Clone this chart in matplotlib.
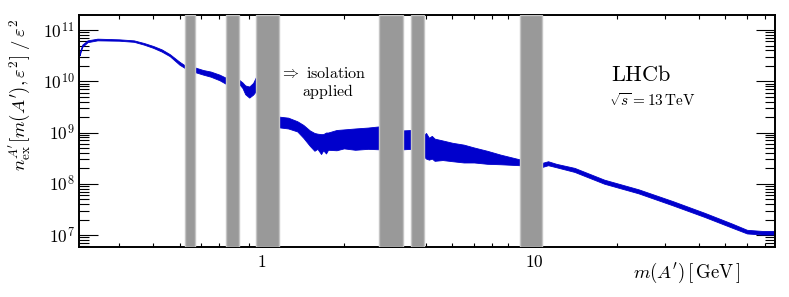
import numpy as np
import matplotlib
matplotlib.use("Agg")
import matplotlib.pyplot as plt
from matplotlib.ticker import FixedLocator, FuncFormatter, NullFormatter

plt.rcParams['mathtext.fontset'] = 'cm'
plt.rcParams['font.family'] = 'serif'

# expected A' yield band (upper / lower edge)
mass = [0.215, 0.22, 0.23, 0.25, 0.30, 0.34, 0.37, 0.40, 0.43, 0.46, 0.50, 0.53,
        0.57, 0.61, 0.65, 0.70, 0.74,
        0.826, 0.85, 0.87, 0.90, 0.93, 0.96,
        1.16, 1.25, 1.35, 1.42, 1.50, 1.56, 1.60, 1.65, 1.68, 1.72, 1.75, 1.88, 2.0, 2.2, 2.45, 2.7,
        3.3, 3.52,
        3.93, 4.0, 4.1, 4.2, 4.3, 4.6, 5.0, 5.5, 6.0, 6.7, 7.5, 8.8,
        10.7, 11.2, 12.0, 14, 18, 24, 32, 42, 53, 60, 68, 76]
upper = [3.6e10, 5.2e10, 6.3e10, 6.8e10, 6.6e10, 6.3e10, 5.6e10, 4.9e10, 4.2e10, 3.4e10, 2.4e10, 1.95e10,
         1.86e10, 1.66e10, 1.55e10, 1.35e10, 1.17e10,
         1.07e10, 9.5e9, 8.3e9, 7.9e9, 9.3e9, 1.32e10,
         2.04e9, 1.95e9, 1.66e9, 1.41e9, 1.10e9, 9.8e8, 9.5e8, 9.3e8, 9.3e8, 1.0e9, 1.0e9, 1.12e9, 1.15e9, 1.20e9, 1.25e9, 1.32e9,
         1.10e9, 1.12e9,
         8.9e8, 9.8e8, 7.9e8, 8.6e8, 7.6e8, 7.0e8, 6.3e8, 5.8e8, 5.1e8, 4.4e8, 3.7e8, 3.0e8,
         2.57e8, 2.75e8, 2.45e8, 2.04e8, 1.20e8, 7.8e7, 4.6e7, 2.7e7, 1.66e7, 1.26e7, 1.20e7, 1.20e7]
lower = [3.2e10, 4.7e10, 5.8e10, 6.3e10, 6.2e10, 5.9e10, 5.2e10, 4.5e10, 3.8e10, 3.1e10, 2.1e10, 1.74e10,
         1.51e10, 1.35e10, 1.23e10, 1.05e10, 8.9e9,
         8.9e9, 7.4e9, 5.6e9, 4.8e9, 5.5e9, 6.8e9,
         1.26e9, 1.20e9, 1.05e9, 7.9e8, 5.5e8, 4.4e8, 4.8e8, 3.8e8, 4.5e8, 3.9e8, 4.6e8, 4.5e8, 4.9e8, 4.6e8, 4.8e8, 4.7e8,
         4.7e8, 4.8e8,
         3.4e8, 3.1e8, 2.95e8, 3.1e8, 2.8e8, 2.9e8, 2.75e8, 2.6e8, 2.6e8, 2.45e8, 2.4e8, 2.3e8,
         2.14e8, 2.3e8, 2.1e8, 1.70e8, 1.0e8, 6.5e7, 3.8e7, 2.24e7, 1.38e7, 1.07e7, 1.02e7, 1.02e7]

# vetoed resonance regions [GeV]
veto_lo = [0.525, 0.738, 0.956, 2.69, 3.52, 8.81]
veto_hi = [0.570, 0.826, 1.16, 3.30, 3.93, 10.66]

fig = plt.figure(figsize=(7.89, 2.97), dpi=100)
ax = fig.add_axes([79/789, 1-247/297, (775-79)/789, (247-15)/297])

ax.fill_between(mass, lower, upper, color='#0000cc', lw=0.6, edgecolor='#0000cc', zorder=2)
for lo, hi in zip(veto_lo, veto_hi):
    ax.axvspan(lo, hi, facecolor='#999999', edgecolor='#c4c4c4', lw=1.0, zorder=3)

ax.set_xscale('log')
ax.set_yscale('log')
ax.set_xlim(0.214, 76)
ax.set_ylim(5.82e6, 1.97e11)

# ticks
ax.xaxis.set_major_locator(FixedLocator([1, 10]))
ax.xaxis.set_major_formatter(FuncFormatter(lambda v, p: r'$%d$' % v))
ax.xaxis.set_minor_locator(FixedLocator([k * 10.0**d for d in (-1, 0, 1) for k in range(2, 10)]))
ax.xaxis.set_minor_formatter(NullFormatter())
ax.yaxis.set_major_locator(FixedLocator([1e7, 1e8, 1e9, 1e10, 1e11]))
ax.yaxis.set_major_formatter(FuncFormatter(lambda v, p: r'$10^{%d}$' % round(np.log10(v))))
ax.yaxis.set_minor_locator(FixedLocator([k * 10.0**d for d in range(6, 12) for k in range(2, 10)]))
ax.yaxis.set_minor_formatter(NullFormatter())

ax.tick_params(which='both', direction='in', top=True, right=True, width=0.8, colors='black')
ax.tick_params(axis='x', which='major', length=5, labelsize=12.5, pad=5)
ax.tick_params(axis='x', which='minor', length=3)
ax.tick_params(axis='y', which='major', length=13.5, labelsize=12.5, pad=3)
ax.tick_params(axis='y', which='minor', length=7)
for s in ax.spines.values():
    s.set_linewidth(1.4)

# labels
fig.text(740/789, 1-273/297, r'$m(A^{\prime})\,[\,\mathrm{GeV}\,]$',
         ha='right', va='center', fontsize=13.5)
fig.text(19/789, 1-18/297, r'$n_{\mathrm{ex}}^{A^{\prime}}[m(A^{\prime}),\varepsilon^2]\;/\;\varepsilon^2$',
         rotation=90, ha='center', va='top', fontsize=13.5)

fig.text(280/789, 1-74/297, r'$\Rightarrow\ \mathrm{isolation}$', ha='left', va='center', fontsize=11.5)
fig.text(328/789, 1-91/297, r'$\mathrm{applied}$', ha='center', va='center', fontsize=11.5)
fig.text(641/789, 1-75/297, r'$\mathrm{LHCb}$', ha='center', va='center', fontsize=16)
fig.text(652/789, 1-100/297, r'$\sqrt{s} = 13\,\mathrm{TeV}$', ha='center', va='center', fontsize=11)

fig.savefig('out.png', dpi=100)
